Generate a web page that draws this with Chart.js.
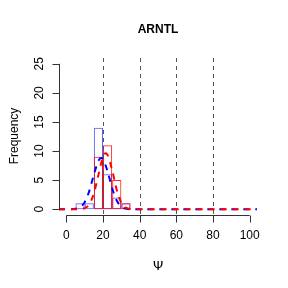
<!DOCTYPE html>
<html><head><meta charset="utf-8">
<script src="https://cdn.jsdelivr.net/npm/chart.js@4/dist/chart.umd.min.js"></script>
<style>html,body{margin:0;padding:0;background:#fff;}canvas{display:block;}</style>
</head><body>
<canvas id="c" width="288" height="288"></canvas>
<script>
const title = "ARNTL";
const xLabel = "Ψ";
const yLabel = "Frequency";
const binCenters = [2.5,7.5,12.5,17.5,22.5,27.5,32.5,37.5,42.5,47.5,52.5,57.5,62.5,67.5,72.5,77.5,82.5,87.5,92.5,97.5];
const blueCounts = [0,1,1,14,6,2,1,0,0,0,0,0,0,0,0,0,0,0,0,0];
const redCounts  = [0,0,0,9,11,5,1,0,0,0,0,0,0,0,0,0,0,0,0,0];
const blueCurveX = [-4,0,2.5,5,7.5,10,12.5,15,17.5,19,20,22.5,25,27.5,30,32.5,35,37.5,104];
const blueCurveY = [0,0,0,0.07,0.33,1.2,3.1,5.9,8.3,8.8,8.6,6.5,3.6,1.5,0.45,0.1,0,0,0];
const redCurveX = [-4,0,2.5,5,7.5,10,12.5,15,17.5,20,21.5,22.5,25,27.5,30,32.5,35,37.5,104];
const redCurveY = [0,0,0,0,0.03,0.19,0.85,2.7,5.9,9.0,9.6,9.3,6.7,3.3,1.1,0.26,0.03,0,0];
const xTicks = [0,20,40,60,80,100];
const yTicks = [0,5,10,15,20,25];
const vLines = [20,40,60,80];

const pts = (xs, ys) => xs.map((x,i)=>({x:x,y:ys[i]}));

const axesPlugin = {
  id:'rAxes',
  afterDatasetsDraw(chart){
    const ctx = chart.ctx, xs = chart.scales.x, ys = chart.scales.y, ca = chart.chartArea;
    ctx.save();
    ctx.strokeStyle = '#555'; ctx.lineWidth = 1; ctx.setLineDash([4,4]);
    vLines.forEach(v=>{
      const px = Math.round(xs.getPixelForValue(v))+0.5;
      ctx.beginPath(); ctx.moveTo(px, ca.top); ctx.lineTo(px, ca.bottom); ctx.stroke();
    });
    ctx.setLineDash([]);
    ctx.strokeStyle = '#333'; ctx.fillStyle = '#000';
    const yb = Math.round(ca.bottom)+0.5;
    const x0 = xs.getPixelForValue(xTicks[0]), x1 = xs.getPixelForValue(xTicks[xTicks.length-1]);
    ctx.beginPath(); ctx.moveTo(x0, yb); ctx.lineTo(x1, yb);
    xTicks.forEach(t=>{ const p = Math.round(xs.getPixelForValue(t))+0.5; ctx.moveTo(p,yb); ctx.lineTo(p,yb+7); });
    ctx.stroke();
    ctx.font = '12px "Liberation Sans", Arial, sans-serif';
    ctx.textAlign = 'center'; ctx.textBaseline = 'middle';
    xTicks.forEach(t=>{ ctx.fillText(String(t), xs.getPixelForValue(t), 236); });
    const xl = Math.round(ca.left)+0.5;
    const y0 = ys.getPixelForValue(yTicks[0]), y1 = ys.getPixelForValue(yTicks[yTicks.length-1]);
    ctx.beginPath(); ctx.moveTo(xl, y0); ctx.lineTo(xl, y1);
    yTicks.forEach(t=>{ const p = Math.round(ys.getPixelForValue(t))+0.5; ctx.moveTo(xl,p); ctx.lineTo(xl-7,p); });
    ctx.stroke();
    yTicks.forEach(t=>{
      ctx.save(); ctx.translate(40, ys.getPixelForValue(t)); ctx.rotate(-Math.PI/2);
      ctx.fillText(String(t), 0, 0); ctx.restore();
    });
    ctx.save(); ctx.translate(15, 136); ctx.rotate(-Math.PI/2); ctx.fillText(yLabel,0,0); ctx.restore();
    ctx.font = 'bold 12px "Liberation Sans", Arial, sans-serif';
    ctx.fillText(title, (ca.left+ca.right)/2, 30);
    ctx.font = '13px "DejaVu Sans", sans-serif';
    ctx.fillText(xLabel, (ca.left+ca.right)/2, 267);
    ctx.restore();
  }
};

new Chart(document.getElementById('c'), {
  type:'bar',
  data:{
    datasets:[
      {type:'bar', data:pts(binCenters, blueCounts), backgroundColor:'rgba(0,0,0,0)', borderColor:'rgba(40,40,255,0.75)', borderWidth:1, borderSkipped:false, inflateAmount:0, grouped:false, barPercentage:1, categoryPercentage:1, order:4},
      {type:'bar', data:pts(binCenters, redCounts), backgroundColor:'rgba(0,0,0,0)', borderColor:'rgba(255,0,0,0.85)', borderWidth:1, borderSkipped:false, inflateAmount:0, grouped:false, barPercentage:1, categoryPercentage:1, order:3},
      {type:'line', data:pts(blueCurveX, blueCurveY), borderColor:'#0000ff', borderWidth:2, borderDash:[6,6], pointRadius:0, fill:false, cubicInterpolationMode:'monotone', order:2},
      {type:'line', data:pts(redCurveX, redCurveY), borderColor:'#ff0000', borderWidth:2, borderDash:[6,6], pointRadius:0, fill:false, cubicInterpolationMode:'monotone', order:1}
    ]
  },
  options:{
    responsive:false, animation:false, devicePixelRatio:1,
    layout:{padding:{left:59, right:31, top:58, bottom:73}},
    plugins:{legend:{display:false}, tooltip:{enabled:false}},
    scales:{
      x:{type:'linear', min:-4, max:104, offset:false, display:false},
      y:{type:'linear', min:-1, max:26, display:false}
    }
  },
  plugins:[axesPlugin]
});
</script>
</body></html>
